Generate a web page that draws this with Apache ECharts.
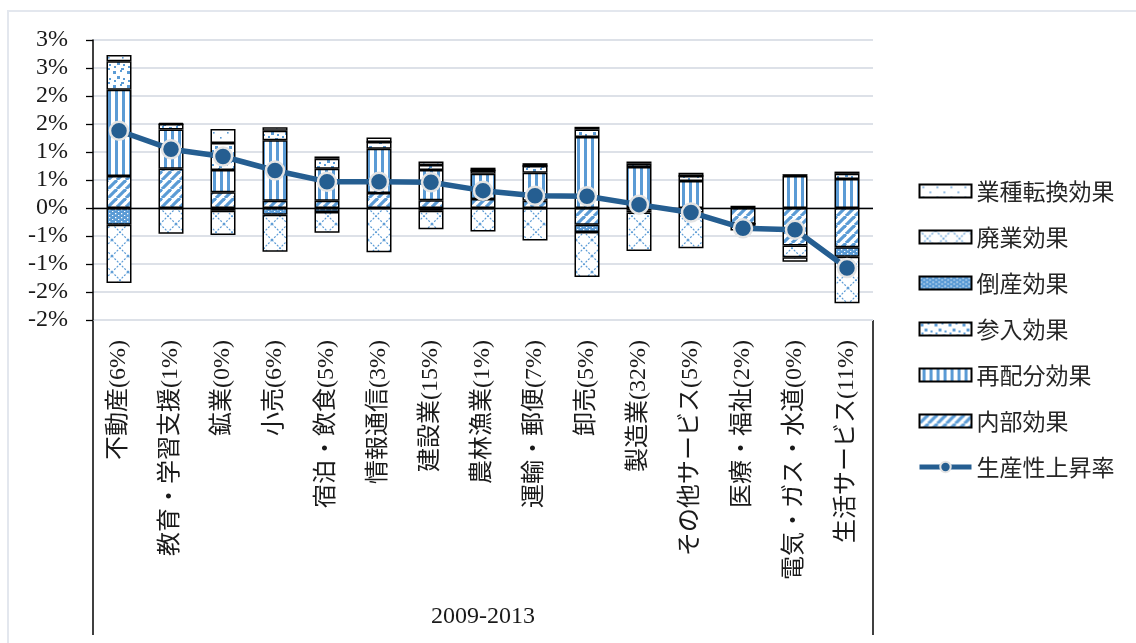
<!DOCTYPE html>
<html>
<head>
<meta charset="utf-8">
<script src="https://cdn.jsdelivr.net/npm/echarts@6/dist/echarts.min.js"></script>
<style>
  html, body { margin: 0; padding: 0; background: #fff; overflow: hidden; }
  #frame { position: absolute; left: 7px; top: 10px; width: 1140px; height: 640px; border-left: 2px solid #e3e7ee; border-top: 2px solid #e3e7ee; }
  #main { position: absolute; left: 0; top: 0; width: 1136px; height: 643px; }
</style>
</head>
<body>
<div id="frame"></div>
<div id="main"></div>
<script>
var categories = ['不動産(6%)', '教育・学習支援(1%)', '鉱業(0%)', '小売(6%)', '宿泊・飲食(5%)', '情報通信(3%)', '建設業(15%)', '農林漁業(1%)',
    '運輸・郵便(7%)', '卸売(5%)', '製造業(32%)', 'その他サービス(5%)', '医療・福祉(2%)', '電気・ガス・水道(0%)', '生活サービス(11%)'];

// 単位: %
var naibu    = [0.57, 0.70, 0.28, 0.13, 0.13, 0.27, 0.14, 0.16, 0.13, -0.30, -0.04, -0.08, -0.28, -0.67, -0.70];
var haibun   = [1.54, 0.70, 0.40, 1.08, 0.57, 0.79, 0.54, 0.45, 0.50, 1.27, 0.73, 0.48, 0, 0.57, 0.52];
var sannyu   = [0.51, 0.10, 0.48, 0.17, 0.18, 0.12, 0.09, 0.06, 0.12, 0.13, 0.06, 0.09, 0, 0.02, 0.09];
var tousan   = [-0.30, 0, -0.05, -0.12, -0.07, 0, -0.05, 0, 0, -0.13, -0.04, 0, -0.04, 0, -0.17];
var haigyo   = [-1.04, -0.46, -0.43, -0.66, -0.37, -0.79, -0.33, -0.42, -0.58, -0.80, -0.69, -0.64, -0.08, -0.21, -0.83];
var tenkan   = [0.11, 0.02, 0.25, 0.06, 0.04, 0.08, 0.06, 0.05, 0.05, 0.05, 0.04, 0.06, 0.04, -0.08, 0.04];
var seisansei = [1.38, 1.05, 0.92, 0.67, 0.47, 0.47, 0.46, 0.31, 0.22, 0.21, 0.06, -0.08, -0.36, -0.39, -1.07];

var yTickLabels = ['-2%', '-2%', '-1%', '-1%', '0%', '1%', '1%', '2%', '2%', '3%', '3%'];
var periodLabel = '2009-2013';

var BLUE = '#5B9BD5';
var LINE = '#255E91';
var SERIF = "'Liberation Serif', 'Noto Sans CJK JP', serif";

function makeTile(w, h, bg, draw) {
    var c = document.createElement('canvas');
    c.width = w;
    c.height = h;
    var ctx = c.getContext('2d');
    ctx.fillStyle = bg;
    ctx.fillRect(0, 0, w, h);
    draw(ctx, w, h);
    return {image: c, repeat: 'repeat'};
}

// 内部効果: 右上がり斜線
var patNaibu = makeTile(9, 9, '#fff', function (ctx, s) {
    ctx.strokeStyle = BLUE;
    ctx.lineWidth = 3.2;
    for (var k = -1; k <= 1; k++) {
        ctx.beginPath();
        ctx.moveTo(k * s, s);
        ctx.lineTo(k * s + s, 0);
        ctx.stroke();
    }
});
// 再配分効果: 縦縞
var patHaibun = makeTile(7, 4, '#fff', function (ctx) {
    ctx.fillStyle = BLUE;
    ctx.fillRect(3, 0, 3, 4);
});
// 参入効果: 紙吹雪
var patSannyu = makeTile(14, 14, '#fff', function (ctx) {
    ctx.fillStyle = BLUE;
    ctx.fillRect(1, 1, 3, 3);
    ctx.fillRect(8, 0, 2, 2);
    ctx.fillRect(5, 6, 3, 3);
    ctx.fillRect(11, 8, 2, 2);
    ctx.fillRect(2, 10, 2, 2);
    ctx.fillRect(9, 12, 3, 2);
});
// 倒産効果: 青地に白点
var patTousan = makeTile(6, 4, BLUE, function (ctx) {
    ctx.fillStyle = '#fff';
    ctx.fillRect(1, 1, 1.3, 1.3);
    ctx.fillRect(4, 3, 1.3, 1.3);
});
// 廃業効果: 点線の菱形
var patHaigyo = makeTile(16, 16, '#fff', function (ctx) {
    ctx.strokeStyle = BLUE;
    ctx.lineWidth = 1.2;
    ctx.setLineDash([2, 1.5]);
    ctx.beginPath();
    ctx.moveTo(0, 0);
    ctx.lineTo(16, 16);
    ctx.moveTo(16, 0);
    ctx.lineTo(0, 16);
    ctx.stroke();
});
// 業種転換効果: まばらな点
var patTenkan = makeTile(14, 10, '#fff', function (ctx) {
    ctx.fillStyle = BLUE;
    ctx.fillRect(3, 2, 1.6, 1.6);
    ctx.fillRect(10, 7, 1.6, 1.6);
});

function barSeries(name, data, pat) {
    return {
        name: name,
        type: 'bar',
        stack: 'total',
        barWidth: 25,
        data: data,
        itemStyle: {color: pat, borderColor: '#000', borderWidth: 1.5},
        emphasis: {disabled: true}
    };
}

var series = [
    barSeries('内部効果', naibu, patNaibu),
    barSeries('再配分効果', haibun, patHaibun),
    barSeries('参入効果', sannyu, patSannyu),
    barSeries('倒産効果', tousan, patTousan),
    barSeries('廃業効果', haigyo, patHaigyo),
    barSeries('業種転換効果', tenkan, patTenkan),
    {
        name: '生産性上昇率',
        type: 'line',
        data: seisansei,
        z: 5,
        symbol: 'circle',
        symbolSize: 18,
        lineStyle: {color: LINE, width: 5.5},
        itemStyle: {color: LINE, borderColor: '#e4e4e4', borderWidth: 2.5},
        emphasis: {disabled: true}
    }
];
series[0].markLine = {
    silent: true,
    symbol: 'none',
    z: 4,
    label: {show: false},
    lineStyle: {color: '#000', width: 1.3, type: 'solid'},
    data: [{yAxis: 0}]
};

var chart = echarts.init(document.getElementById('main'));
chart.setOption({
    animation: false,
    grid: {left: 93, right: 263, top: 40, bottom: 323},
    legend: {
        orient: 'vertical',
        left: 912,
        top: 174,
        itemWidth: 52,
        itemHeight: 13,
        itemGap: 22,
        textStyle: {fontFamily: "'Noto Sans CJK JP'", fontSize: 23, lineHeight: 24, color: '#262626'},
        data: [
            {name: '業種転換効果', icon: 'rect'},
            {name: '廃業効果', icon: 'rect'},
            {name: '倒産効果', icon: 'rect'},
            {name: '参入効果', icon: 'rect'},
            {name: '再配分効果', icon: 'rect'},
            {name: '内部効果', icon: 'rect'},
            {name: '生産性上昇率', itemStyle: {borderWidth: 2}, lineStyle: {width: 5}}
        ]
    },
    xAxis: {
        type: 'category',
        data: categories,
        axisLine: {show: false, onZero: false},
        axisTick: {show: false},
        axisLabel: {
            rotate: 90,
            margin: 20,
            interval: 0,
            fontFamily: SERIF,
            fontSize: 24,
            color: '#1a1a1a'
        }
    },
    yAxis: {
        type: 'value',
        min: -2,
        max: 3,
        interval: 0.5,
        axisLine: {show: true, lineStyle: {color: '#000', width: 1.5}},
        axisTick: {show: true, length: 7, lineStyle: {color: '#000', width: 1.3}},
        splitLine: {lineStyle: {color: '#dde1e8', width: 2}},
        axisLabel: {
            margin: 25,
            fontFamily: SERIF,
            fontSize: 24,
            color: '#1a1a1a',
            formatter: function (v) {
                return yTickLabels[Math.round((v + 2) / 0.5)];
            }
        }
    },
    graphic: [
        {type: 'line', shape: {x1: 93, y1: 320, x2: 93, y2: 635}, style: {stroke: '#000', lineWidth: 1.5}},
        {type: 'line', shape: {x1: 873, y1: 320, x2: 873, y2: 635}, style: {stroke: '#000', lineWidth: 1.5}},
        {type: 'text', x: 483, y: 617, style: {text: periodLabel, font: "24px 'Liberation Serif'", fill: '#1a1a1a', align: 'center', verticalAlign: 'middle'}}
    ],
    series: series
});
</script>
</body>
</html>
